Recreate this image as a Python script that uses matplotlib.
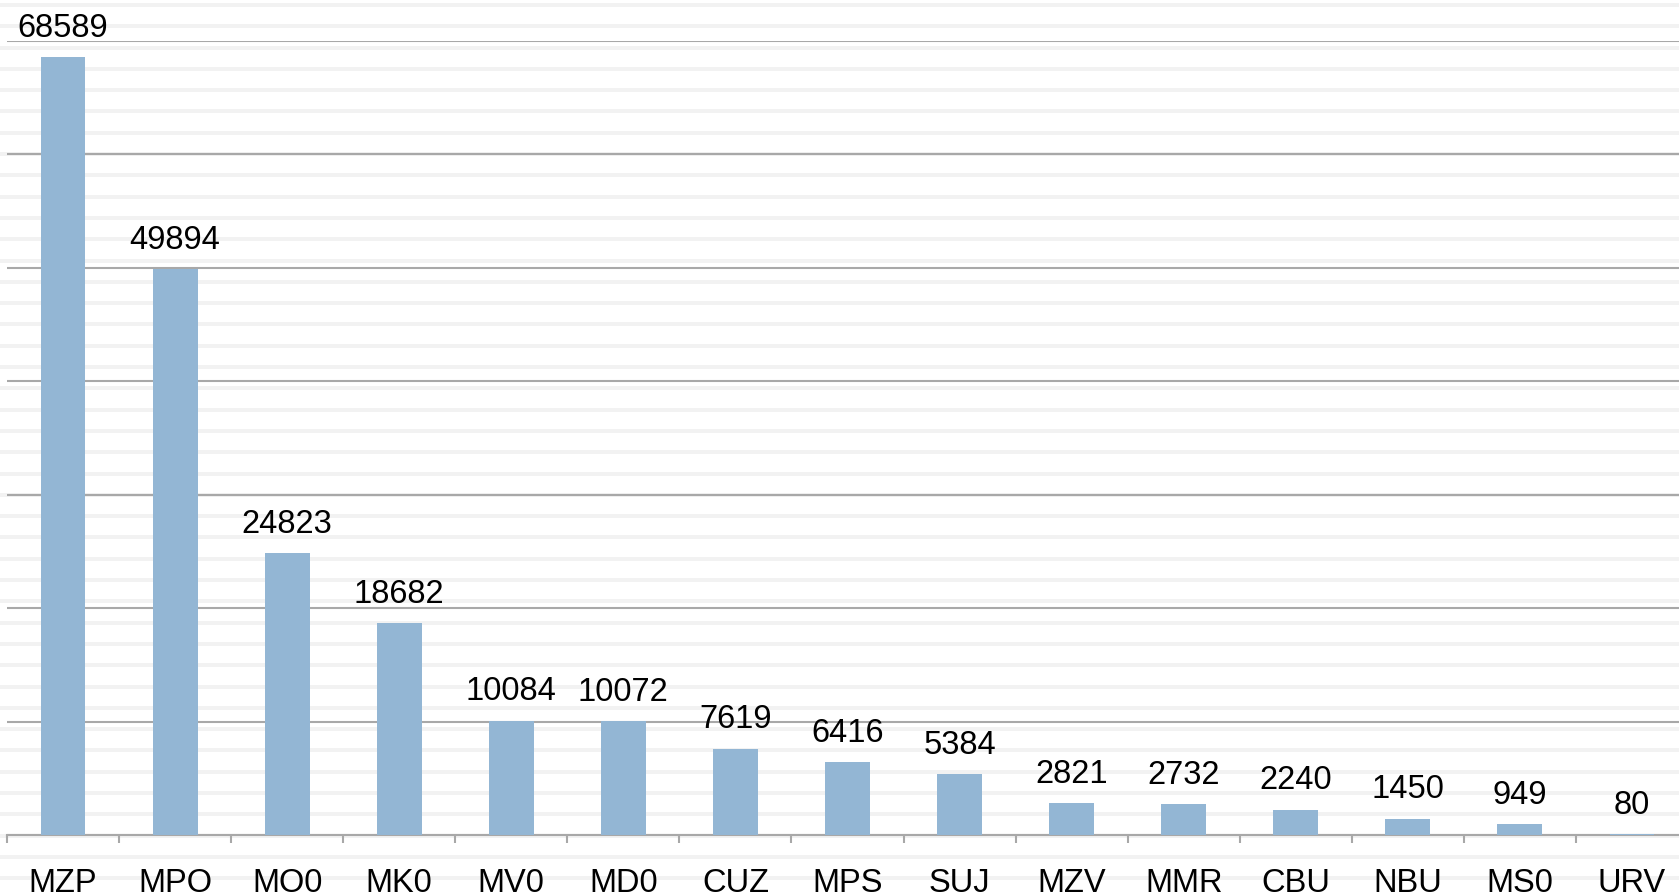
import matplotlib.pyplot as plt
import numpy as np

codes = ["MZP", "MPO", "MO0", "MK0", "MV0", "MD0", "CUZ", "MPS",
         "SUJ", "MZV", "MMR", "CBU", "NBU", "MS0", "URV"]
counts = [68589, 49894, 24823, 18682, 10084, 10072, 7619, 6416,
          5384, 2821, 2732, 2240, 1450, 949, 80]

plt.rcParams['font.family'] = ['Liberation Sans', 'DejaVu Sans']

fig = plt.figure(figsize=(16.79, 8.96), dpi=100)
fig.patch.set_facecolor('white')

# faint horizontal banding seen in the background of the original
bg = fig.add_axes([0, 0, 1, 1], zorder=-10)
bg.set_xlim(0, 1)
bg.set_ylim(896, 0)
bg.axis('off')
for y in np.arange(5, 896, 21.3):
    bg.axhspan(y - 2, y + 2, color='#f2f2f2', lw=0)

ax = fig.add_axes([7 / 1679, 1 - 835 / 896, 1681 / 1679, (835 - 41) / 896])
ax.patch.set_alpha(0)

x = np.arange(len(codes))
ax.bar(x, counts, width=0.4, color='#93b6d4', zorder=4)

for xi, v in zip(x, counts):
    ax.annotate(str(v), (xi, v), xytext=(0, 14.5), textcoords='offset points',
                ha='center', va='baseline', fontsize=23.5, color='black')

ax.set_xlim(-0.5, len(codes) - 0.5)
ax.set_ylim(0, 70000)
ax.set_yticks(np.arange(0, 70001, 10000))
ax.yaxis.grid(True, color='#a8a8a8', lw=1.5)
ax.set_axisbelow(True)
ax.tick_params(axis='y', left=False, labelleft=False)

ax.set_xticks(x)
ax.set_xticklabels(codes, fontsize=23.5)
ax.set_xticks(np.arange(-0.5, len(codes)), minor=True)
ax.tick_params(axis='x', which='major', length=0, pad=24)
ax.tick_params(axis='x', which='minor', length=6, width=1.5, color='#a8a8a8')

for s in ['top', 'right', 'left']:
    ax.spines[s].set_visible(False)
ax.spines['bottom'].set_color('#a8a8a8')
ax.spines['bottom'].set_linewidth(1.5)
ax.spines['bottom'].set_zorder(2)

fig.savefig('out.png', dpi=100)
